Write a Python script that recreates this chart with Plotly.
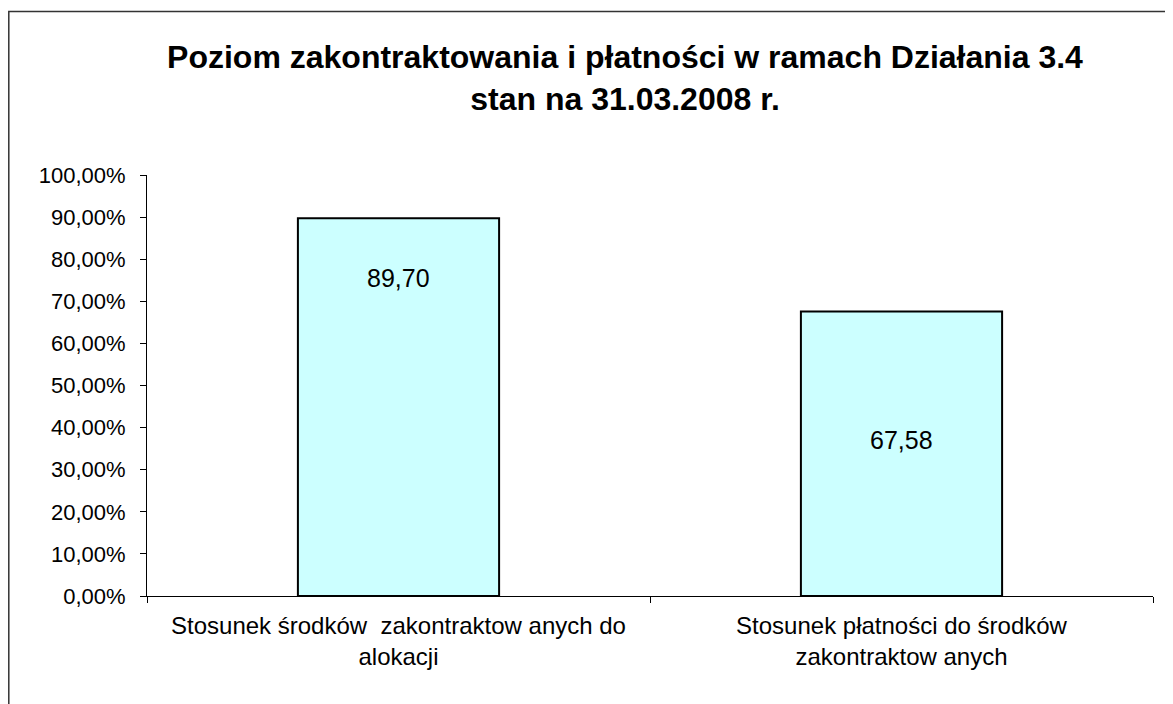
import plotly.graph_objects as go

categories = ["Stosunek środków  zakontraktow anych do<br>alokacji",
              "Stosunek płatności do środków<br>zakontraktow anych"]
values = [0.8970, 0.6758]
labels = ["89,70", "67,58"]
label_y = [0.755, 0.37]
title_text = "<b>Poziom zakontraktowania i płatności w ramach Działania 3.4<br>stan na 31.03.2008 r.</b>"

# page has an 8px body margin, so the figure is 8px smaller than the window
W, H = 1165, 696
L, R, T, B = 139, 20, 167, 108
pw = W - L - R
ph = H - T - B
FONT = "Liberation Sans, Arial"

fig = go.Figure()
fig.add_trace(go.Bar(
    x=categories, y=values,
    marker=dict(color="#CCFFFF", line=dict(color="black", width=2)),
    width=0.4,
    hoverinfo="skip",
))

for c, t, yy in zip(categories, labels, label_y):
    fig.add_annotation(x=c, y=yy, text=t, showarrow=False,
                       font=dict(size=25, color="black", family=FONT))

def px2paper_x(px):
    return (px - L) / pw

def px2paper_y(py):
    return (H - B - py) / ph

fig.add_shape(type="rect", xref="paper", yref="paper",
              x0=px2paper_x(0.8), x1=px2paper_x(1200),
              y0=px2paper_y(720), y1=px2paper_y(3.5),
              line=dict(color="#333333", width=1.5), fillcolor="rgba(0,0,0,0)")

fig.update_layout(
    width=W, height=H,
    margin=dict(l=L, r=R, t=T, b=B),
    paper_bgcolor="white", plot_bgcolor="white",
    separators=",.",
    showlegend=False,
    title=dict(text=title_text, x=617 / W, xanchor="center",
               y=1 - 60 / H, yanchor="middle",
               font=dict(size=32, color="black", family=FONT)),
    font=dict(family=FONT, size=22, color="black"),
    bargap=0.6,
)
fig.update_xaxes(
    showline=True, linecolor="black", linewidth=1,
    ticks="outside", ticklen=6, tickcolor="black", tickson="boundaries",
    tickfont=dict(size=24), showgrid=False, ticklabelstandoff=8,
)
fig.update_yaxes(
    range=[0, 1.0], tickvals=[i / 10 for i in range(11)], tickformat=".2%",
    showline=True, linecolor="black", linewidth=1,
    ticks="outside", ticklen=6, tickcolor="black",
    showgrid=False, zeroline=False, tickfont=dict(size=22),
    ticklabelstandoff=10,
)

fig.write_html("out.html")
